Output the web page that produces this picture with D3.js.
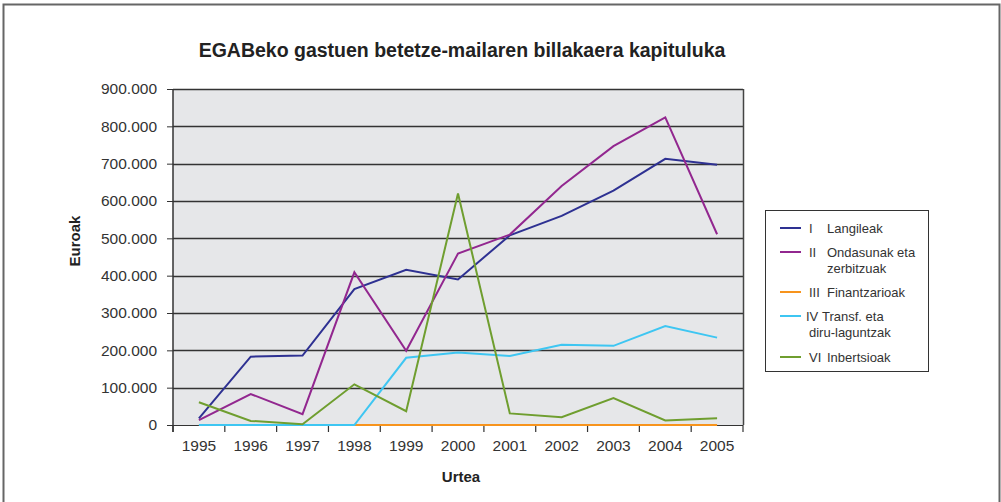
<!DOCTYPE html>
<html>
<head>
<meta charset="utf-8">
<script src="https://cdn.jsdelivr.net/npm/d3@7"></script>
<style>
body{margin:0;background:#fff;}
svg{display:block;font-family:"Liberation Sans",Arial,sans-serif;}
</style>
</head>
<body>
<svg id="chart" width="1001" height="502"></svg>
<script>
// datuak
var years=["1995","1996","1997","1998","1999","2000","2001","2002","2003","2004","2005"];
var langileak=[18000,183000,186000,364000,416000,390000,508000,560000,628000,713000,697000];
var ondasunak=[13000,83000,29000,409000,199000,459000,510000,640000,747000,824000,511000];
var finantzarioak=[0,0,0,0,0,0,0,0,0,0,0];
var transferentziak=[0,0,0,0,180000,194000,185000,215000,212000,265000,234000];
var inbertsioak=[61000,11000,2000,109000,37000,620000,31000,21000,72000,12000,18000];
var yTicks=[0,100000,200000,300000,400000,500000,600000,700000,800000,900000];

var series=[
  {num:"I",name:["Langileak"],values:langileak,color:"#2e3192"},
  {num:"II",name:["Ondasunak eta","zerbitzuak"],values:ondasunak,color:"#92278f"},
  {num:"III",name:["Finantzarioak"],values:finantzarioak,color:"#f7941d"},
  {num:"IV",name:["Transf. eta","diru-laguntzak"],values:transferentziak,color:"#3ec6f2"},
  {num:"VI",name:["Inbertsioak"],values:inbertsioak,color:"#6f9e2f"}
];

var svg=d3.select("#chart");
var pLeft=173,pRight=743,pTop=89,pBottom=425;

var x=d3.scaleBand().domain(years).range([pLeft,pRight]).padding(0);
var y=d3.scaleLinear().domain([0,900000]).range([pBottom,pTop]);
var fmt=d3.formatLocale({decimal:",",thousands:".",grouping:[3],currency:["",""]}).format(",");

// kanpoko markoa
svg.append("rect").attr("x",3.5).attr("y",4.5).attr("width",996).attr("height",520)
  .attr("fill","none").attr("stroke","#666").attr("stroke-width",2);

// izenburua
svg.append("text").attr("x",462).attr("y",57).attr("text-anchor","middle")
  .attr("font-size",19.5).attr("font-weight","bold").attr("fill","#222")
  .text("EGABeko gastuen betetze-mailaren billakaera kapituluka");

// marrazki-eremua
svg.append("rect").attr("x",pLeft).attr("y",pTop).attr("width",pRight-pLeft).attr("height",pBottom-pTop)
  .attr("fill","#e6e7e9");

// sareta
svg.append("g").selectAll("line").data(yTicks.slice(1)).enter().append("line")
  .attr("x1",pLeft).attr("x2",pRight)
  .attr("y1",function(d){return Math.round(y(d))+0.5;})
  .attr("y2",function(d){return Math.round(y(d))+0.5;})
  .attr("stroke","#333").attr("stroke-width",1.5);
svg.append("line").attr("x1",pRight+0.5).attr("x2",pRight+0.5).attr("y1",pTop).attr("y2",pBottom)
  .attr("stroke","#444").attr("stroke-width",1.5);

// Y ardatza
var yAxis=svg.append("g").attr("transform","translate("+pLeft+",0)")
  .call(d3.axisLeft(y).tickValues(yTicks).tickSize(6).tickPadding(10).tickFormat(fmt));
yAxis.select(".domain").remove();
yAxis.selectAll("line").attr("stroke","#333");
yAxis.selectAll("text").attr("font-size",15.5).attr("fill","#333").attr("font-family","Liberation Sans, Arial, sans-serif");
svg.append("line").attr("x1",pLeft).attr("x2",pLeft).attr("y1",pTop).attr("y2",pBottom+7)
  .attr("stroke","#333").attr("stroke-width",1.5);

// X ardatza
var xAxis=svg.append("g").attr("transform","translate(0,"+pBottom+")")
  .call(d3.axisBottom(x).tickSize(0).tickPadding(15));
xAxis.select(".domain").remove();
xAxis.selectAll("text").attr("font-size",15.5).attr("fill","#333").attr("font-family","Liberation Sans, Arial, sans-serif");
var edges=years.map(function(d){return x(d);}).concat([pRight]);
svg.append("g").selectAll("line").data(edges).enter().append("line")
  .attr("x1",function(d){return d;}).attr("x2",function(d){return d;})
  .attr("y1",pBottom).attr("y2",pBottom+7).attr("stroke","#333").attr("stroke-width",1.2);
svg.append("line").attr("x1",pLeft).attr("x2",pRight).attr("y1",pBottom+0.5).attr("y2",pBottom+0.5)
  .attr("stroke","#333").attr("stroke-width",1);

// ardatzen izenak
svg.append("text").attr("transform","translate(80,241) rotate(-90)").attr("text-anchor","middle")
  .attr("font-size",15).attr("font-weight","bold").attr("fill","#222").text("Euroak");
svg.append("text").attr("x",461).attr("y",482).attr("text-anchor","middle")
  .attr("font-size",15).attr("font-weight","bold").attr("fill","#222").text("Urtea");

// lerroak
var line=d3.line()
  .x(function(d,i){return x(years[i])+x.bandwidth()/2;})
  .y(function(d){return y(d);});
svg.append("g").selectAll("path").data(series).enter().append("path")
  .attr("d",function(s){return line(s.values);})
  .attr("fill","none").attr("stroke",function(s){return s.color;})
  .attr("stroke-width",2).attr("stroke-linejoin","miter");

// legenda
var lg=svg.append("g");
lg.append("rect").attr("x",765.5).attr("y",210.5).attr("width",163).attr("height",161)
  .attr("fill","#fff").attr("stroke","#333").attr("stroke-width",1);
var legendY=[228,252,292,316,357];
series.forEach(function(s,i){
  var yy=legendY[i];
  lg.append("line").attr("x1",780).attr("x2",801).attr("y1",yy).attr("y2",yy)
    .attr("stroke",s.color).attr("stroke-width",2);
  lg.append("text").attr("x",(s.num==="IV")?806:809).attr("y",yy+5).attr("font-size",13).attr("fill","#333").text(s.num);
  var nx=(s.num==="IV")?822:827;
  lg.append("text").attr("x",nx).attr("y",yy+5).attr("font-size",13).attr("fill","#333").text(s.name[0]);
  if(s.name[1]){
    var sx=(s.num==="IV")?809:827;
    lg.append("text").attr("x",sx).attr("y",yy+21).attr("font-size",13).attr("fill","#333").text(s.name[1]);
  }
});
</script>
</body>
</html>
